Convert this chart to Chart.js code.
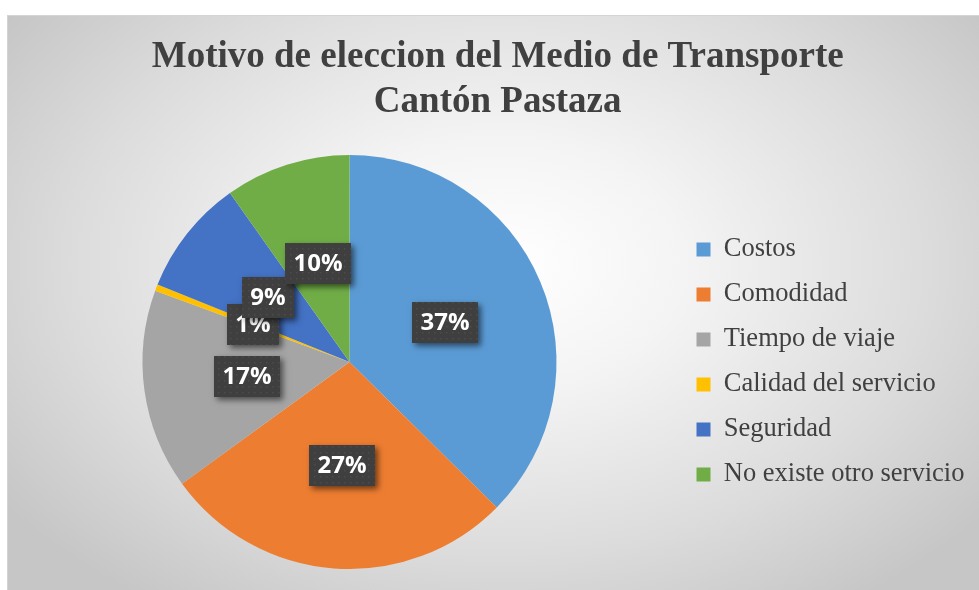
<!DOCTYPE html>
<html>
<head>
<meta charset="utf-8">
<script src="https://cdn.jsdelivr.net/npm/chart.js@4/dist/chart.umd.min.js"></script>
<style>
  html, body { margin: 0; padding: 0; background: #ffffff; width: 979px; height: 590px; overflow: hidden; }
  #frame {
    position: absolute; left: 7px; top: 15px; width: 985px; height: 590px;
    border: 1px solid #d4d4d4;
    background: radial-gradient(ellipse 62% 70% at 50% 42%, #ffffff 0%, #f4f4f4 30%, #dcdcdc 70%, #c6c6c6 100%);
  }
  #wrap { position: absolute; left: 0; top: 0; width: 979px; height: 590px; }
</style>
</head>
<body>
<div id="frame"></div>
<div id="wrap"><canvas id="c" width="979" height="590"></canvas></div>
<script>
// ---- data ----
const titleLines = ["Motivo de eleccion del Medio de Transporte", "Cantón Pastaza"];
const categories = ["Costos", "Comodidad", "Tiempo de viaje", "Calidad del servicio", "Seguridad", "No existe otro servicio"];
const shares = [37.4, 27.6, 15.6, 0.5, 9.1, 9.8];
const percentLabels = ["37%", "27%", "17%", "1%", "9%", "10%"];
const sliceColors = ["#5B9BD5", "#ED7D31", "#A5A5A5", "#FFC000", "#4472C4", "#70AD47"];

// ---- layout helpers ----
const legendFont = { family: '"Liberation Serif", "Times New Roman", serif', size: 26.5 };
const legendPad = 18.5, legendBox = 14;
const mctx = document.createElement('canvas').getContext('2d');
mctx.font = legendFont.size + 'px ' + legendFont.family;
const maxText = Math.max(...categories.map(t => mctx.measureText(t).width));
const legendLeft = 678;
const legendWidth = legendPad + legendBox + legendFont.size / 2 + maxText + 10;
const padRight = Math.max(0, 979 - (legendLeft + legendWidth));
const pieCenterX = 349.5;
const padLeft = Math.max(0, 2 * pieCenterX - legendLeft);

// dotted pattern for the data label boxes
const tile = document.createElement('canvas');
tile.width = 6; tile.height = 6;
const tctx = tile.getContext('2d');
tctx.fillStyle = '#3f3f3f';
tctx.fillRect(0, 0, 6, 6);
tctx.fillStyle = '#4d4d4d';
tctx.fillRect(2, 2, 1.5, 1.5);

const boxLabels = {
  id: 'boxLabels',
  afterDatasetsDraw(chart) {
    const ctx = chart.ctx;
    const meta = chart.getDatasetMeta(0);
    const pattern = ctx.createPattern(tile, 'repeat');
    ctx.save();
    ctx.font = 'bold 24px "Open Sans", "DejaVu Sans", sans-serif';
    meta.data.forEach((arc, i) => {
      const p = arc.getCenterPoint(true);
      const text = percentLabels[i];
      const tw = ctx.measureText(text).width;
      const w = Math.round(tw + 17), h = 41;
      const x = Math.round(p.x - w / 2), y = Math.round(p.y - h / 2);
      ctx.save();
      ctx.shadowColor = 'rgba(0,0,0,0.55)';
      ctx.shadowBlur = 6;
      ctx.shadowOffsetX = 3;
      ctx.shadowOffsetY = 3;
      ctx.fillStyle = '#3f3f3f';
      ctx.fillRect(x, y, w, h);
      ctx.restore();
      ctx.fillStyle = pattern;
      ctx.fillRect(x, y, w, h);
      ctx.fillStyle = '#ffffff';
      ctx.textAlign = 'center';
      ctx.textBaseline = 'middle';
      ctx.fillText(text, x + w / 2, y + h / 2 + 1);
    });
    ctx.restore();
  }
};

new Chart(document.getElementById('c'), {
  type: 'pie',
  data: {
    labels: categories,
    datasets: [{
      data: shares,
      backgroundColor: sliceColors,
      borderWidth: 0,
      radius: 207
    }]
  },
  options: {
    responsive: false,
    animation: false,
    events: [],
    layout: { padding: { top: 15, left: padLeft, right: padRight, bottom: 21 } },
    plugins: {
      title: {
        display: true,
        text: titleLines,
        color: '#404040',
        font: { family: '"Liberation Serif", "Times New Roman", serif', size: 37, weight: 'bold', lineHeight: 45 / 37 },
        padding: { top: 20, bottom: 30 }
      },
      legend: {
        display: true,
        position: 'right',
        align: 'center',
        fullSize: false,
        labels: {
          color: '#404040',
          font: legendFont,
          boxWidth: legendBox,
          boxHeight: 14,
          padding: legendPad
        }
      },
      tooltip: { enabled: false }
    }
  },
  plugins: [boxLabels]
});
</script>
</body>
</html>
